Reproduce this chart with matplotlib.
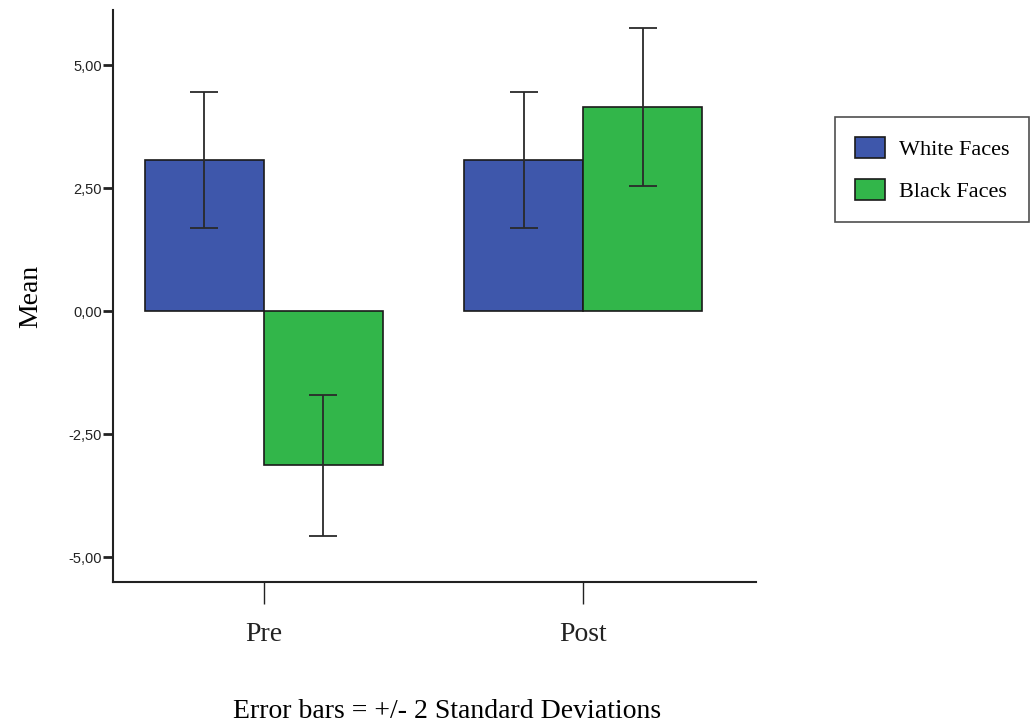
import numpy as np
import matplotlib
matplotlib.use("Agg")
import matplotlib.pyplot as plt
from matplotlib.ticker import FuncFormatter

# data
conditions = ["Pre", "Post"]
series = ["White Faces", "Black Faces"]
white_mean = [3.07, 3.07]
black_mean = [-3.13, 4.15]
white_err = [1.38, 1.38]   # 2 SD
black_err = [1.44, 1.61]
y_ticks = [-5.0, -2.5, 0.0, 2.5, 5.0]

colors = ["#3E57AB", "#32B64A"]

fig = plt.figure(figsize=(10.3, 7.27), dpi=100)
ax = fig.add_axes([0.1097, 0.1994, 0.6243, 0.7866])

x = np.arange(len(conditions))
w = 0.373
serif = "Liberation Serif"

for i, (means, errs) in enumerate([(white_mean, white_err), (black_mean, black_err)]):
    pos = x + (i - 0.5) * w
    ax.bar(pos, means, width=w, color=colors[i], edgecolor="#1a1a1a",
           linewidth=1.2, label=series[i], zorder=2)
    ax.errorbar(pos, means, yerr=errs, fmt="none", ecolor="#2a2a2a",
                elinewidth=1.3, capsize=10, capthick=1.3, zorder=3)

ax.set_xlim(-0.473, 1.542)
ax.set_ylim(-5.5, 6.12)
ax.set_yticks(y_ticks)
ax.yaxis.set_major_formatter(FuncFormatter(lambda v, p: f"{v:.2f}".replace(".", ",")))
ax.set_xticks(x)
ax.set_xticklabels(conditions, fontfamily=serif, fontsize=20)

for s in ["top", "right"]:
    ax.spines[s].set_visible(False)
for s in ["left", "bottom"]:
    ax.spines[s].set_linewidth(1.5)
    ax.spines[s].set_color("#222222")

ax.tick_params(axis="y", direction="out", length=7, width=2, labelsize=10.5,
               colors="#222222", pad=1)
ax.tick_params(axis="x", direction="out", length=16, width=1, pad=13,
               colors="#222222")
for t in ax.get_yticklabels():
    t.set_fontfamily("Liberation Sans")

ax.set_ylabel("Mean", fontfamily=serif, fontsize=20, labelpad=18)

fig.text(0.434, 0.021, "Error bars = +/- 2 Standard Deviations",
         fontfamily=serif, fontsize=20, ha="center", va="center")

leg = fig.legend(loc="upper left", bbox_to_anchor=(0.811, 0.839),
                 prop={"family": serif, "size": 16}, frameon=True,
                 fancybox=False, edgecolor="#222222", handlelength=1.35,
                 handleheight=1.1, borderpad=0.9, labelspacing=0.85,
                 handletextpad=0.6, borderaxespad=0)
leg.get_frame().set_linewidth(1.2)

fig.savefig("out.png", dpi=100)
